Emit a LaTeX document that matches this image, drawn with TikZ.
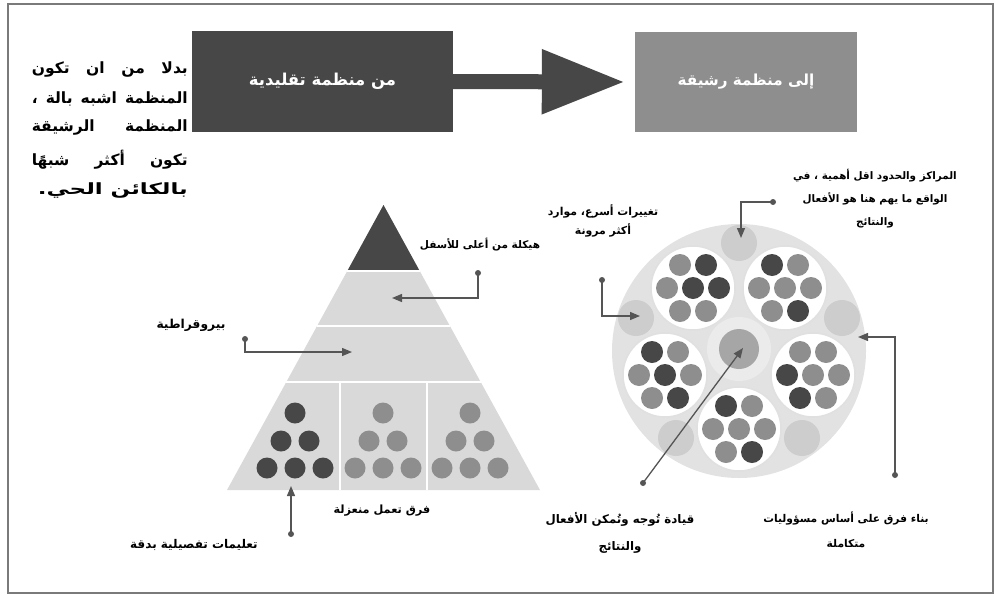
\documentclass[tikz,border=0pt]{standalone}
\usepackage{fontspec}
\usepackage{graphicx}
\usetikzlibrary{arrows.meta,calc}
\TeXXeTstate=1
\newfontfamily\arabicfont[Script=Arabic]{DejaVu Sans}
\newcommand\artxt[1]{\beginR #1\endR}
\newcommand\arsize[1]{\arabicfont\bfseries\fontsize{#1}{#1}\selectfont}
\definecolor{darkg}{HTML}{474747}
\definecolor{midg}{HTML}{8E8E8E}
\definecolor{lightg}{HTML}{D9D9D9}
\definecolor{circg}{HTML}{E2E2E2}
\definecolor{blobg}{HTML}{CDCDCD}
\definecolor{lineg}{HTML}{555555}
\definecolor{frameg}{HTML}{7A7A7A}
\tikzset{
  boxtxt/.style={text=white, inner sep=0pt},
  lbl/.style={text=black, align=center, inner sep=0pt},
  para/.style={font=\arsize{15.5}, text=black, inner sep=0pt, anchor=east},
  conn/.style={draw=lineg, line width=1.3pt, -{Triangle[length=10pt,width=8pt]}},
  dotc/.style={circle, fill=lineg, inner sep=0pt, minimum size=6pt},
}
\newcommand\teamcircle[8]{%
  \fill[white] (#1) circle (42);
  \draw[draw=white!88!black, line width=1.5pt] (#1) circle (42);
  \foreach \dx/\dy/\cc in {-13/-23/#2,13/-23/#3,-26/0/#4,0/0/#5,26/0/#6,-13/23/#7,13/23/#8}
    \fill[\cc] ($(#1)+(\dx,\dy)$) circle (11);
}
\begin{document}
\begin{tikzpicture}[x=1pt,y=-1pt]
\useasboundingbox (0,0) rectangle (995,597);
% frame
\draw[frameg, line width=2pt] (8,4) rectangle (993,593);

% top boxes and arrow
\node[boxtxt, font=\arsize{16.4}, fill=darkg, minimum width=261pt, minimum height=101pt] (src) at (322.5,81.5) {\artxt{من منظمة تقليدية}};
\node[boxtxt, font=\arsize{15.2}, fill=midg, minimum width=222pt, minimum height=100pt] (dst) at (746,82) {\artxt{إلى منظمة رشيقة}};
\coordinate (tipA) at ($(dst.west)+(-10,0)$);
\draw[darkg, line width=15pt, -{Triangle[length=83pt,width=61pt]}] (src.east) -- (tipA);

% left paragraph
\node[para] (p1) at (188,70) {\hbox to 156pt{\beginR بدلا\hfill من\hfill ان\hfill تكون\endR}};
\node[para] (p2) at (188,99) {\hbox to 156pt{\beginR المنظمة\hfill اشبه\hfill بالة\hfill ،\endR}};
\node[para] (p3) at (188,128) {\hbox to 156pt{\beginR المنظمة\hfill الرشيقة\endR}};
\node[para] (p4) at (188,160) {\hbox to 156pt{\beginR تكون\hfill أكثر\hfill شبهًا\endR}};
\node[para] (p5) at (188,191) {\resizebox{150pt}{\height}{\artxt{بالكائن الحي.}}};

% pyramid
\fill[lightg] (383.5,205) -- (540,490) -- (227,490) -- cycle;
\fill[darkg] (383.5,205) -- (419.7,271) -- (347.3,271) -- cycle;
\draw[white, line width=1.5pt] (347.3,271) -- (419.7,271);
\draw[white, line width=1.5pt] (317.1,326) -- (449.9,326);
\draw[white, line width=1.5pt] (286.3,382) -- (480.7,382);
\draw[white, line width=1.5pt] (340,382) -- (340,490);
\draw[white, line width=1.5pt] (427,382) -- (427,490);
% team dots in pyramid
\foreach \cx/\cc in {295/darkg,383/midg,470/midg}{
  \fill[\cc] (\cx,413) circle (10.5);
  \fill[\cc] (\cx-14,441) circle (10.5);
  \fill[\cc] (\cx+14,441) circle (10.5);
  \fill[\cc] (\cx-28,468) circle (10.5);
  \fill[\cc] (\cx,468) circle (10.5);
  \fill[\cc] (\cx+28,468) circle (10.5);
}

% agile circle
\fill[circg] (739,351) circle (127);
\foreach \bx/\by in {739/243,842/318,636/318,676/438,802/438}
  \fill[blobg] (\bx,\by) circle (18);
\fill[white!92!black] (739,349) circle (32);
\fill[black!35] (739,349) circle (20);
\coordinate (tUL) at (693,288);
\coordinate (tUR) at (785,288);
\coordinate (tL) at (665,375);
\coordinate (tR) at (813,375);
\coordinate (tB) at (739,429);
\teamcircle{tUL}{midg}{darkg}{midg}{darkg}{darkg}{midg}{midg}
\teamcircle{tUR}{darkg}{midg}{midg}{midg}{midg}{midg}{darkg}
\teamcircle{tL}{darkg}{midg}{midg}{darkg}{midg}{midg}{darkg}
\teamcircle{tR}{midg}{midg}{darkg}{midg}{midg}{darkg}{midg}
\teamcircle{tB}{darkg}{midg}{midg}{midg}{midg}{midg}{darkg}

% labels
\node[lbl, font=\arsize{10.5}] (l1) at (480,245) {\artxt{هيكلة من أعلى للأسفل}};
\node[lbl, font=\arsize{12.3}] (l2) at (191,325) {\artxt{بيروقراطية}};
\node[lbl, font=\arsize{11.3}] (l3) at (382,511) {\artxt{فرق تعمل منعزلة}};
\node[lbl, font=\arsize{12}] (l4) at (194,545) {\artxt{تعليمات تفصيلية بدقة}};
\node[lbl, font=\arabicfont\bfseries\fontsize{10.4}{23}\selectfont] (r1) at (875,199) {\artxt{المراكز والحدود اقل أهمية ، في}\\\artxt{الواقع ما يهم هنا هو الأفعال}\\\artxt{والنتائج}};
\node[lbl, font=\arabicfont\bfseries\fontsize{10.9}{19}\selectfont] (r2) at (603,221) {\artxt{تغييرات أسرع، موارد}\\\artxt{أكثر مرونة}};
\node[lbl, font=\arabicfont\bfseries\fontsize{10.7}{25}\selectfont] (r3) at (846,530) {\artxt{بناء فرق على أساس مسؤوليات}\\\artxt{متكاملة}};
\node[lbl, font=\arabicfont\bfseries\fontsize{11.8}{27}\selectfont] (r4) at (620,533) {\artxt{قيادة تُوجه وتُمكن الأفعال}\\\artxt{والنتائج}};

% connectors
\node[dotc] (d1) at (478,273) {};
\coordinate (e1) at (392,298);
\draw[conn] (d1.center) |- (e1);
\node[dotc] (d2) at (245,339) {};
\coordinate (e2) at (352,352);
\draw[conn] (d2.center) |- (e2);
\node[dotc] (d3) at (291,534) {};
\coordinate (e3) at (291,486);
\draw[conn] (d3.center) -- (e3);
\node[dotc] (d4) at (773,202) {};
\coordinate (e4) at (741,238);
\draw[conn] (d4.center) -| (e4);
\node[dotc] (d5) at (602,280) {};
\coordinate (e5) at (640,316);
\draw[conn] (d5.center) |- (e5);
\node[dotc] (d6) at (895,475) {};
\coordinate (e6) at (858,337);
\draw[conn] (d6.center) |- (e6);
\node[dotc] (d7) at (643,483) {};
\coordinate (e7) at (743,348);
\draw[conn] (d7.center) -- (e7);
\end{tikzpicture}
\end{document}
